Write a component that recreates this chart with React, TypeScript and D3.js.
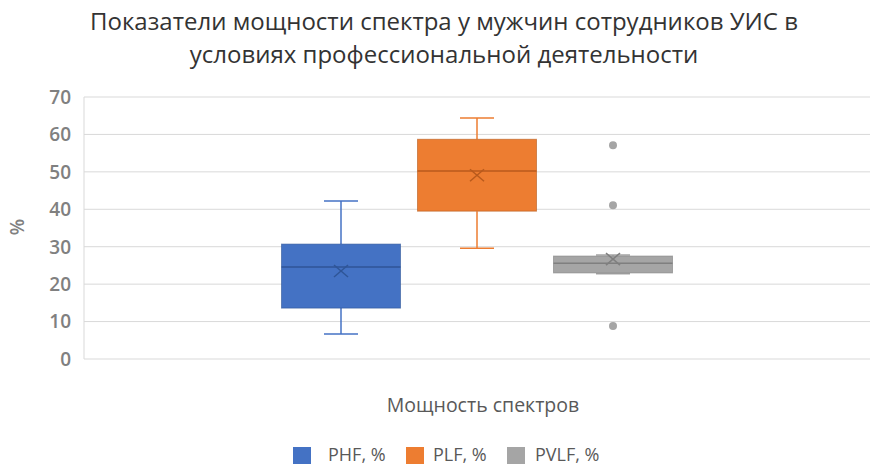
import React from "react";
import * as d3 from "d3";

const series = ["PHF, %", "PLF, %", "PVLF, %"];
const colors = ["#4472c4", "#ed7d31", "#a5a5a5"];
const darkColors = ["#2f5597", "#b85a1c", "#7f7f7f"];
const whiskerLow = [6.7, 29.6, 22.8];
const q1 = [13.6, 39.5, 23.0];
const median = [24.6, 50.2, 25.6];
const q3 = [30.7, 58.7, 27.5];
const whiskerHigh = [42.2, 64.4, 27.8];
const mean = [23.5, 49.1, 26.7];
const outliers = [[], [], [57.1, 41.1, 8.8]];
const yTicks = [0, 10, 20, 30, 40, 50, 60, 70];
const titleLines = [
  "Показатели мощности спектра у мужчин сотрудников УИС в",
  "условиях профессиональной деятельности",
];
const xTitle = "Мощность спектров";
const yTitle = "%";

const W = 871;
const H = 466;
const FONT = "'Open Sans', 'Liberation Sans', sans-serif";

export default function App() {
  const left = 84;
  const right = 870;
  const y = d3.scaleLinear().domain([0, 70]).range([359, 97]);
  const cx = (left + right) / 2;
  const x = d3
    .scaleBand<string>()
    .domain(series)
    .range([cx - 204, cx + 204])
    .paddingInner(0.125)
    .paddingOuter(0.0625);
  const bw = x.bandwidth();
  const capW = 34;

  return (
    <svg width={W} height={H} style={{ position: "absolute", left: 0, top: 0, background: "#fff" }}>
      {titleLines.map((t, i) => (
        <text key={i} x={444} y={30 + i * 33} textAnchor="middle" fontFamily={FONT} fontSize={24} fill="#333">
          {t}
        </text>
      ))}
      {yTicks.map((t) => (
        <g key={t}>
          <line x1={left} x2={right} y1={y(t)} y2={y(t)} stroke="#d9d9d9" strokeWidth={1} />
          <text x={71} y={y(t)} dy="0.36em" textAnchor="end" fontFamily={FONT} fontSize={19} fontWeight={600} fill="#808080">
            {t}
          </text>
        </g>
      ))}
      <line x1={left} x2={left} y1={y(70)} y2={y(0)} stroke="#d9d9d9" strokeWidth={1} />
      <text
        transform={`translate(17,${227}) rotate(-90)`}
        textAnchor="middle"
        dy="0.35em"
        fontFamily={FONT}
        fontSize={19}
        fontWeight={600}
        fill="#808080"
      >
        {yTitle}
      </text>
      {series.map((s, i) => {
        const x0 = x(s)!;
        const xc = x0 + bw / 2;
        return (
          <g key={s}>
            <line x1={xc} x2={xc} y1={y(whiskerHigh[i])} y2={y(q3[i])} stroke={colors[i]} strokeWidth={1.5} />
            <line x1={xc} x2={xc} y1={y(q1[i])} y2={y(whiskerLow[i])} stroke={colors[i]} strokeWidth={1.5} />
            <line x1={xc - capW / 2} x2={xc + capW / 2} y1={y(whiskerHigh[i])} y2={y(whiskerHigh[i])} stroke={colors[i]} strokeWidth={1.5} />
            <line x1={xc - capW / 2} x2={xc + capW / 2} y1={y(whiskerLow[i])} y2={y(whiskerLow[i])} stroke={colors[i]} strokeWidth={1.5} />
            <rect
              x={x0}
              y={y(q3[i])}
              width={bw}
              height={y(q1[i]) - y(q3[i])}
              fill={colors[i]}
              stroke={darkColors[i]}
              strokeOpacity={0.6}
              strokeWidth={1}
            />
            <line x1={x0} x2={x0 + bw} y1={y(median[i])} y2={y(median[i])} stroke={darkColors[i]} strokeWidth={1.5} />
            <g stroke={darkColors[i]} strokeWidth={1.5}>
              <line x1={xc - 7} x2={xc + 7} y1={y(mean[i]) - 6} y2={y(mean[i]) + 6} />
              <line x1={xc - 7} x2={xc + 7} y1={y(mean[i]) + 6} y2={y(mean[i]) - 6} />
            </g>
            {outliers[i].map((o, j) => (
              <circle key={j} cx={xc} cy={y(o)} r={4} fill={colors[i]} />
            ))}
          </g>
        );
      })}
      <text x={483} y={412} textAnchor="middle" fontFamily={FONT} fontSize={19.5} fill="#595959">
        {xTitle}
      </text>
      {series.map((s, i) => {
        const lx = [293, 406, 507][i];
        const tx = [328, 433, 535][i];
        return (
          <g key={s}>
            <rect x={lx} y={447} width={18} height={17} fill={colors[i]} />
            <text x={tx} y={455} dy="0.36em" fontFamily={FONT} fontSize={18} fill="#595959">
              {s}
            </text>
          </g>
        );
      })}
    </svg>
  );
}
